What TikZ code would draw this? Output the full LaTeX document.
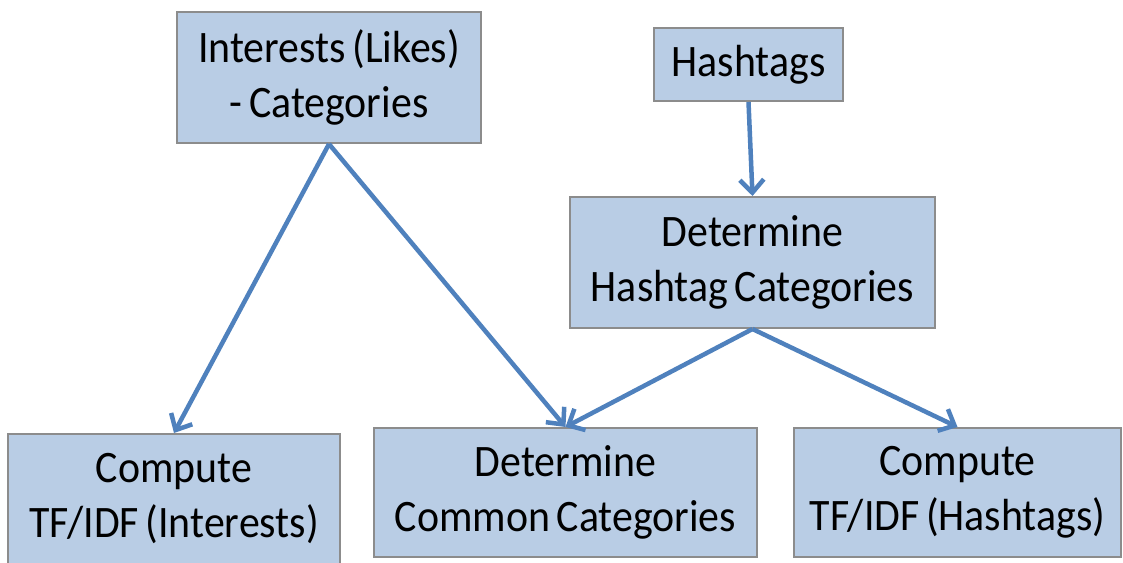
\documentclass[tikz,border=0pt]{standalone}
\usepackage{fontspec}
\setmainfont{Carlito}[FakeStretch=0.93, WordSpace=0.7]
\usetikzlibrary{arrows.meta}
\definecolor{boxfill}{HTML}{B9CDE5}
\definecolor{boxline}{HTML}{8C8C8C}
\definecolor{arrowc}{HTML}{4F81BD}
\tikzset{
  box/.style={draw=boxline, line width=2pt, fill=boxfill, inner sep=0pt, align=center,
    font=\fontsize{45}{55}\selectfont},
  conn/.style={draw=arrowc, line width=4.5pt, -{Straight Barb[length=13pt,width=24pt]}}
}
\begin{document}
\begin{tikzpicture}[x=1pt,y=-1pt]
\useasboundingbox (0,0) rectangle (1123,562);
\node[box, minimum width=304pt, minimum height=131pt] (int) at (329,77.5) {Interests (Likes)\\- Categories};
\node[box, minimum width=189pt, minimum height=73pt] (hash) at (748.5,64.5) {Hashtags};
\node[box, minimum width=365pt, minimum height=131pt] (dhc) at (752.5,262.5) {Determine\\Hashtag Categories};
\node[box, minimum width=332pt, minimum height=130pt] (tfi) at (174,499) {Compute\\TF/IDF (Interests)};
\node[box, minimum width=383pt, minimum height=129pt] (dcc) at (565.5,492.5) {Determine\\Common Categories};
\node[box, minimum width=327pt, minimum height=129pt] (tfh) at (957.5,492.5) {Compute\\TF/IDF (Hashtags)};
\draw[conn] (int.south) -- (tfi.north);
\draw[conn] (int.south) -- (dcc.north);
\draw[conn] (hash.south) -- (dhc.north);
\draw[conn] (dhc.south) -- (dcc.north);
\draw[conn] (dhc.south) -- (tfh.north);
\end{tikzpicture}
\end{document}
